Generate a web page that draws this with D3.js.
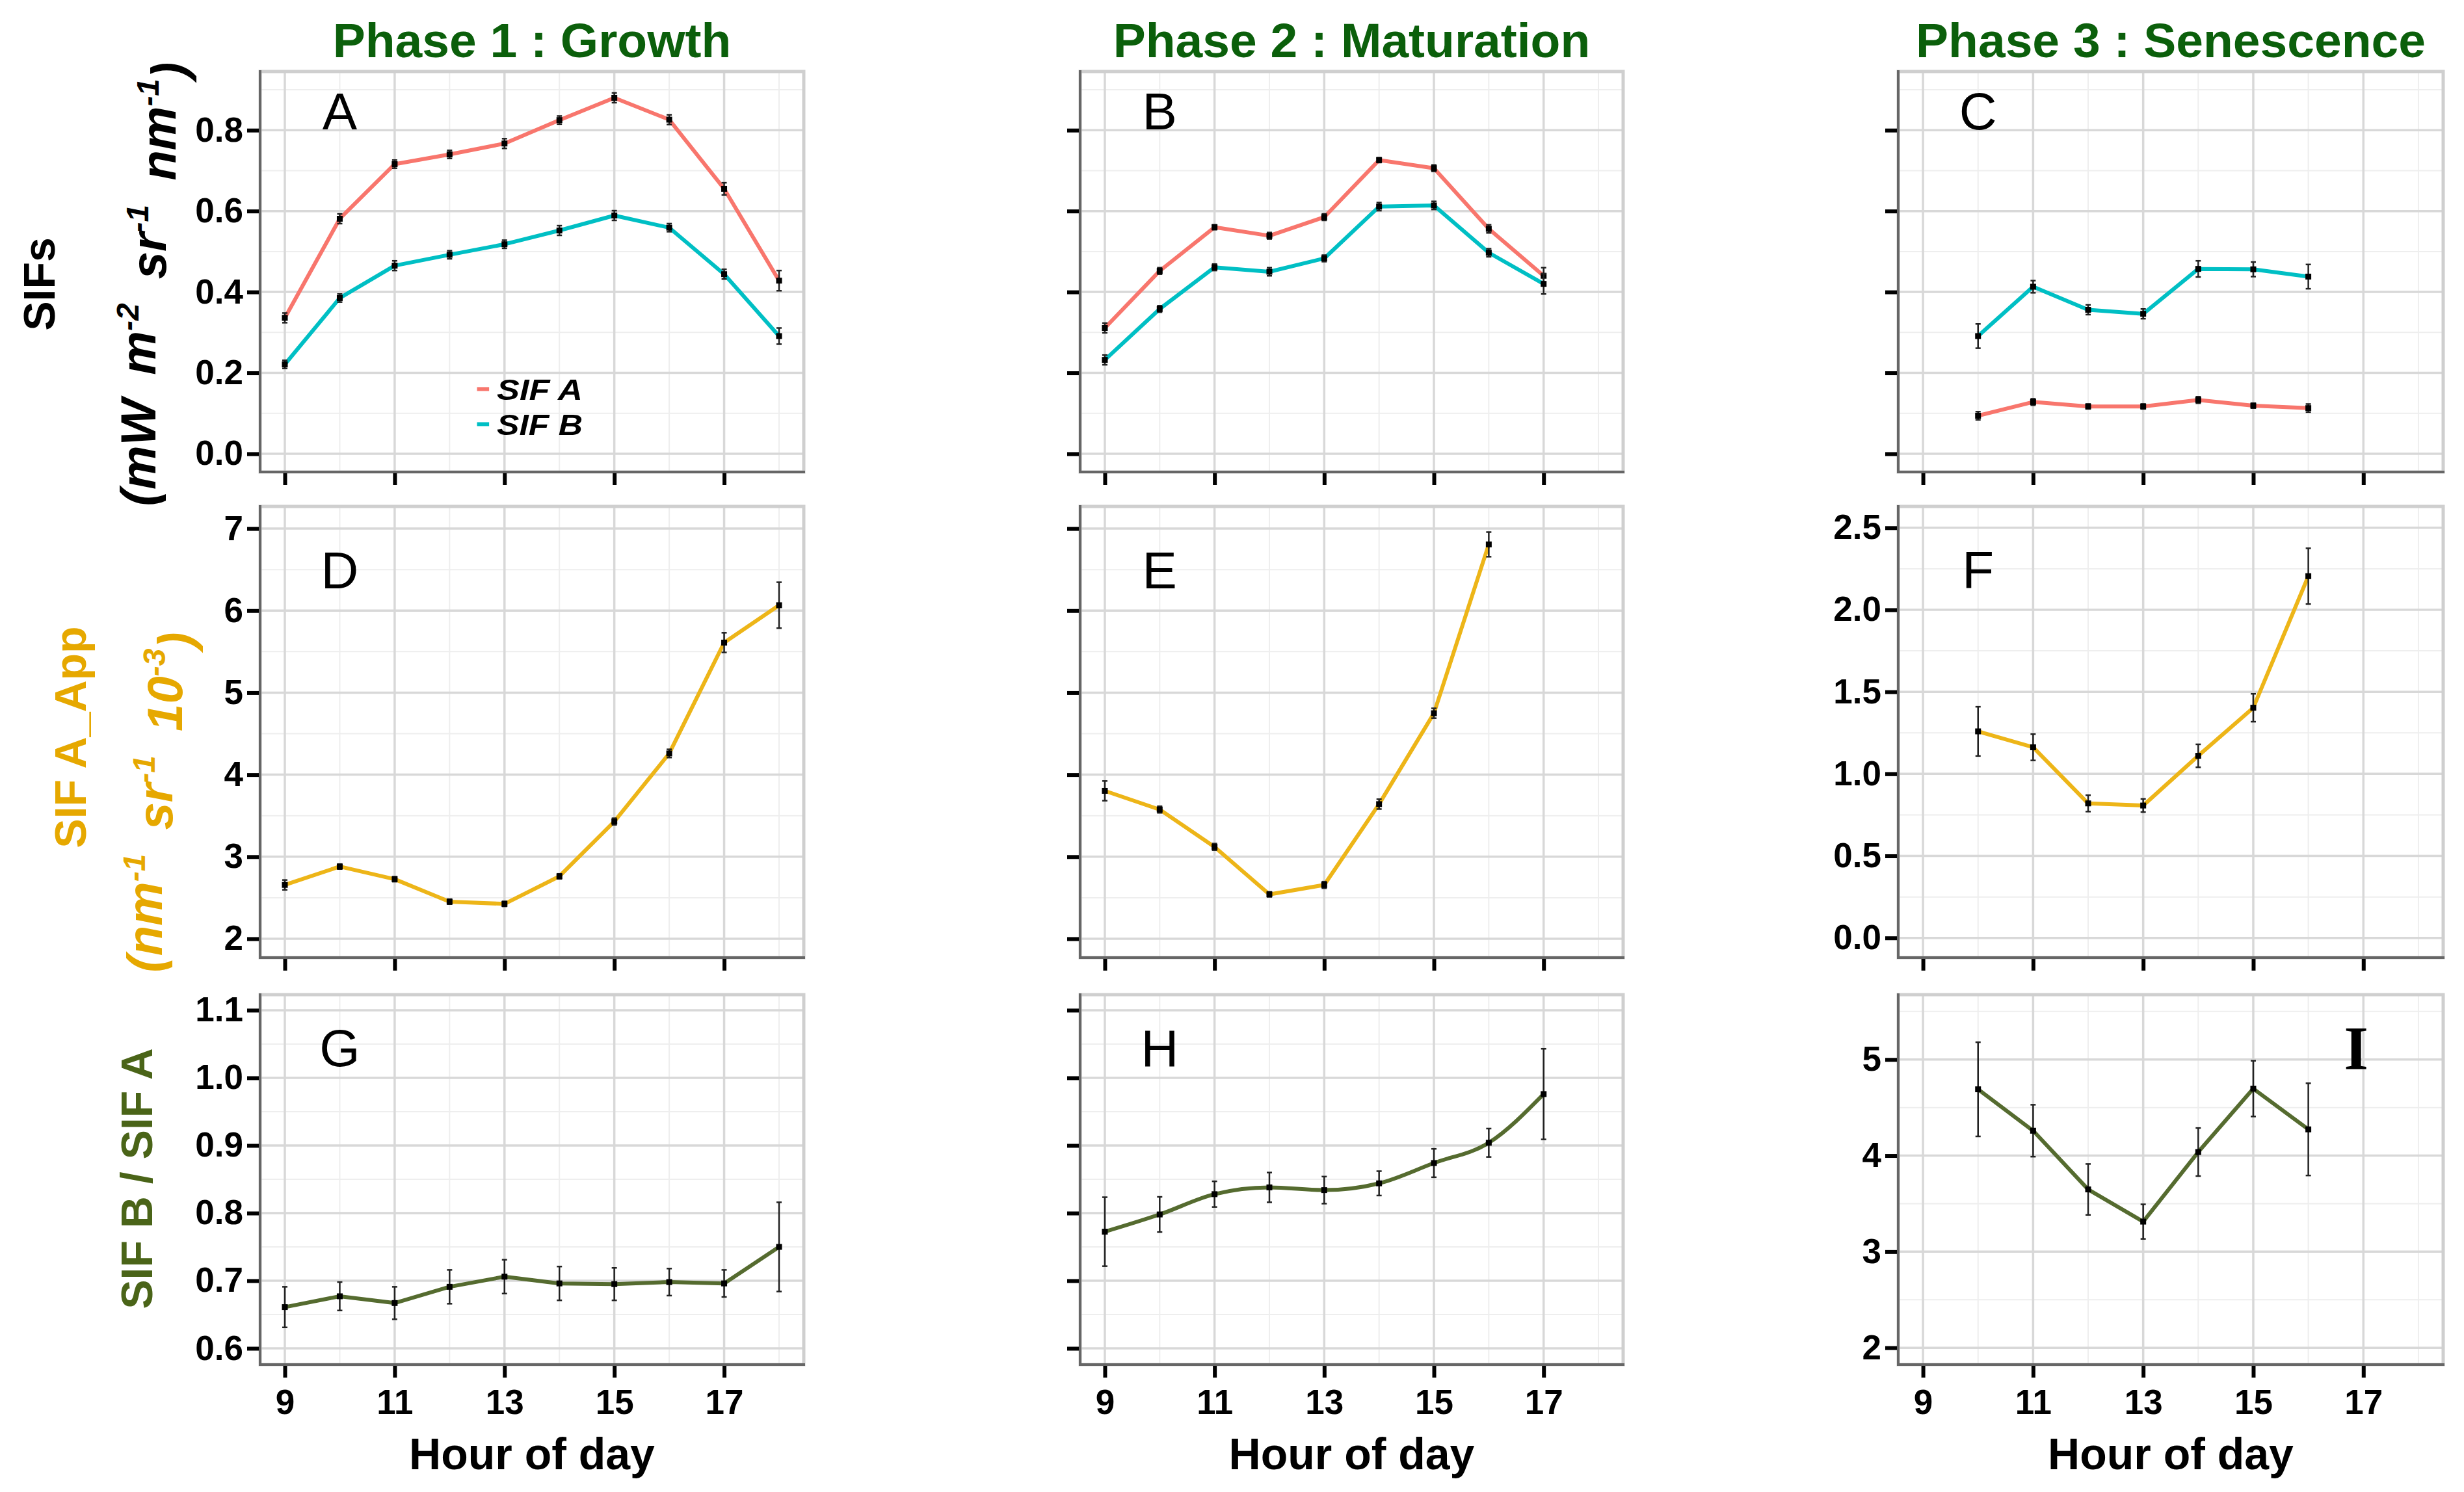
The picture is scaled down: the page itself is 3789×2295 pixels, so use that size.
<!DOCTYPE html>
<html>
<head>
<meta charset="utf-8">
<script src="https://cdn.jsdelivr.net/npm/d3@7/dist/d3.min.js"></script>
<style>
  html, body { margin: 0; padding: 0; background: #ffffff; }
  svg { display: block; font-family: "Liberation Sans", Arial, sans-serif; }
</style>
</head>
<body>
<script>
// ---------------- DATA ----------------
const phaseTitles = ["Phase 1 : Growth", "Phase 2 : Maturation", "Phase 3 : Senescence"];
const panelLetters = ["A", "B", "C", "D", "E", "F", "G", "H", "I"];
const xTicks = [9, 11, 13, 15, 17];
const xMinor = [10, 12, 14, 16, 18];

const hoursP1 = [9, 10, 11, 12, 13, 14, 15, 16, 17, 18];
const hoursP2 = [9, 10, 11, 12, 13, 14, 15, 16, 17];
const hoursP2app = [9, 10, 11, 12, 13, 14, 15, 16];
const hoursP3 = [10, 11, 12, 13, 14, 15, 16];

// Row 1 : SIF A / SIF B (mW m-2 sr-1 nm-1)
const sifA_P1 = [0.336, 0.581, 0.716, 0.740, 0.767, 0.825, 0.880, 0.826, 0.655, 0.428];
const sifA_P1_se = [0.012, 0.012, 0.010, 0.010, 0.012, 0.010, 0.012, 0.012, 0.015, 0.025];
const sifB_P1 = [0.221, 0.385, 0.465, 0.492, 0.518, 0.552, 0.589, 0.559, 0.444, 0.291];
const sifB_P1_se = [0.010, 0.010, 0.012, 0.010, 0.010, 0.012, 0.012, 0.010, 0.012, 0.020];
const sifA_P2 = [0.311, 0.452, 0.560, 0.539, 0.585, 0.726, 0.706, 0.556, 0.440];
const sifA_P2_se = [0.012, 0.008, 0.006, 0.008, 0.008, 0.006, 0.008, 0.010, 0.020];
const sifB_P2 = [0.232, 0.358, 0.461, 0.450, 0.483, 0.611, 0.614, 0.497, 0.420];
const sifB_P2_se = [0.012, 0.008, 0.008, 0.010, 0.008, 0.010, 0.010, 0.010, 0.025];
const sifA_P3 = [0.094, 0.128, 0.117, 0.117, 0.133, 0.119, 0.113];
const sifA_P3_se = [0.010, 0.008, 0.006, 0.006, 0.008, 0.006, 0.010];
const sifB_P3 = [0.291, 0.413, 0.356, 0.346, 0.457, 0.456, 0.438];
const sifB_P3_se = [0.030, 0.015, 0.012, 0.012, 0.020, 0.018, 0.030];

// Row 2 : SIF A_App (nm-1 sr-1 10-3)
const appA_P1 = [2.656, 2.880, 2.726, 2.452, 2.425, 2.761, 3.429, 4.259, 5.610, 6.066];
const appA_P1_se = [0.06, 0.03, 0.03, 0.03, 0.03, 0.03, 0.04, 0.05, 0.12, 0.28];
const appA_P2 = [3.803, 3.575, 3.120, 2.541, 2.656, 3.641, 4.749, 6.807];
const appA_P2_se = [0.12, 0.04, 0.04, 0.03, 0.04, 0.06, 0.06, 0.15];
const appA_P3 = [1.259, 1.162, 0.820, 0.807, 1.110, 1.403, 2.205];
const appA_P3_se = [0.15, 0.08, 0.05, 0.04, 0.07, 0.085, 0.17];

// Row 3 : SIF B / SIF A
const ratio_P1 = [0.661, 0.677, 0.667, 0.691, 0.706, 0.696, 0.695, 0.698, 0.696, 0.750];
const ratio_P1_se = [0.030, 0.021, 0.024, 0.025, 0.025, 0.025, 0.024, 0.020, 0.020, 0.066];
const ratio_P2 = [0.7725, 0.798, 0.828, 0.838, 0.834, 0.844, 0.874, 0.904, 0.976];
const ratio_P2_se = [0.051, 0.026, 0.019, 0.022, 0.020, 0.018, 0.021, 0.021, 0.067];
const ratio_P3 = [4.690, 4.259, 3.648, 3.313, 4.037, 4.697, 4.273];
const ratio_P3_se = [0.49, 0.27, 0.265, 0.18, 0.25, 0.29, 0.48];

// y tick labels
const yTicksSIF = [0.0, 0.2, 0.4, 0.6, 0.8];
const yTicksApp = [2, 3, 4, 5, 6, 7];
const yTicksAppP3 = [0.0, 0.5, 1.0, 1.5, 2.0, 2.5];
const yTicksRatio = [0.6, 0.7, 0.8, 0.9, 1.0, 1.1];
const yTicksRatioP3 = [2, 3, 4, 5];

const legendLabels = ["SIF A", "SIF B"];

// ---------------- STYLE / LAYOUT ----------------
const W = 3789, H = 2295;
const colX = [[400, 1236], [1661, 2496], [2919, 3757]];
const rowY = [[110, 726], [779, 1473], [1530, 2099]];
const COL_A = "#F8766D", COL_B = "#00BFC4", COL_GOLD = "#EDB518", COL_OLIVE = "#556B2F";
const TITLE_GREEN = "#0B5F0B", GOLD_TXT = "#E6A800", OLIVE_TXT = "#4A6418";
const xDomain = [8.55, 18.45];

const svg = d3.select("body").append("svg").attr("width", W).attr("height", H);
svg.append("rect").attr("width", W).attr("height", H).attr("fill", "#fff");

function mk(h, v, se) { return h.map((x, i) => ({ x: x, y: v[i], se: se[i] })); }

const panels = [
  { r: 0, c: 0, dom: [-0.045, 0.945], ticks: yTicksSIF, minor: [0.1, 0.3, 0.5, 0.7, 0.9], fmt: d3.format(".1f"), labels: true,
    series: [{ d: mk(hoursP1, sifA_P1, sifA_P1_se), col: COL_A }, { d: mk(hoursP1, sifB_P1, sifB_P1_se), col: COL_B }], ly: 0.848 },
  { r: 0, c: 1, dom: [-0.045, 0.945], ticks: yTicksSIF, minor: [0.1, 0.3, 0.5, 0.7, 0.9], fmt: d3.format(".1f"), labels: false,
    series: [{ d: mk(hoursP2, sifA_P2, sifA_P2_se), col: COL_A }, { d: mk(hoursP2, sifB_P2, sifB_P2_se), col: COL_B }], ly: 0.848 },
  { r: 0, c: 2, dom: [-0.045, 0.945], ticks: yTicksSIF, minor: [0.1, 0.3, 0.5, 0.7, 0.9], fmt: d3.format(".1f"), labels: false,
    series: [{ d: mk(hoursP3, sifA_P3, sifA_P3_se), col: COL_A }, { d: mk(hoursP3, sifB_P3, sifB_P3_se), col: COL_B }], ly: 0.848 },
  { r: 1, c: 0, dom: [1.77, 7.27], ticks: yTicksApp, minor: [2.5, 3.5, 4.5, 5.5, 6.5], fmt: d3.format("d"), labels: true,
    series: [{ d: mk(hoursP1, appA_P1, appA_P1_se), col: COL_GOLD }], ly: 6.5 },
  { r: 1, c: 1, dom: [1.77, 7.27], ticks: yTicksApp, minor: [2.5, 3.5, 4.5, 5.5, 6.5], fmt: d3.format("d"), labels: false,
    series: [{ d: mk(hoursP2app, appA_P2, appA_P2_se), col: COL_GOLD }], ly: 6.5 },
  { r: 1, c: 2, dom: [-0.12, 2.63], ticks: yTicksAppP3, minor: [0.25, 0.75, 1.25, 1.75, 2.25], fmt: d3.format(".1f"), labels: true,
    series: [{ d: mk(hoursP3, appA_P3, appA_P3_se), col: COL_GOLD }], ly: 2.25 },
  { r: 2, c: 0, dom: [0.576, 1.123], ticks: yTicksRatio, minor: [0.65, 0.75, 0.85, 0.95, 1.05], fmt: d3.format(".1f"), labels: true,
    series: [{ d: mk(hoursP1, ratio_P1, ratio_P1_se), col: COL_OLIVE }], ly: 1.045 },
  { r: 2, c: 1, dom: [0.576, 1.123], ticks: yTicksRatio, minor: [0.65, 0.75, 0.85, 0.95, 1.05], fmt: d3.format(".1f"), labels: false, curve: true,
    series: [{ d: mk(hoursP2, ratio_P2, ratio_P2_se), col: COL_OLIVE }], ly: 1.045 },
  { r: 2, c: 2, dom: [1.825, 5.675], ticks: yTicksRatioP3, minor: [2.5, 3.5, 4.5, 5.5], fmt: d3.format("d"), labels: true,
    series: [{ d: mk(hoursP3, ratio_P3, ratio_P3_se), col: COL_OLIVE }], ly: 5.13, lx: 16.87, serif: true }
];

panels.forEach((p, i) => {
  const [x0, x1] = colX[p.c], [y0, y1] = rowY[p.r];
  const x = d3.scaleLinear().domain(xDomain).range([x0, x1]);
  const y = d3.scaleLinear().domain(p.dom).range([y1, y0]);
  const g = svg.append("g");

  // minor grid
  g.selectAll(".hmin").data(p.minor.filter(v => v > p.dom[0] && v < p.dom[1])).join("line")
    .attr("x1", x0).attr("x2", x1).attr("y1", d => y(d)).attr("y2", d => y(d))
    .attr("stroke", "#eeeeee").attr("stroke-width", 2);
  g.selectAll(".vmin").data(xMinor).join("line")
    .attr("x1", d => x(d)).attr("x2", d => x(d)).attr("y1", y0).attr("y2", y1)
    .attr("stroke", "#eeeeee").attr("stroke-width", 2);
  // major grid
  g.selectAll(".hmaj").data(p.ticks).join("line")
    .attr("x1", x0).attr("x2", x1).attr("y1", d => y(d)).attr("y2", d => y(d))
    .attr("stroke", "#d8d8d8").attr("stroke-width", 3.5);
  g.selectAll(".vmaj").data(xTicks).join("line")
    .attr("x1", d => x(d)).attr("x2", d => x(d)).attr("y1", y0).attr("y2", y1)
    .attr("stroke", "#d8d8d8").attr("stroke-width", 3.5);

  // panel border (light) + axis lines (dark)
  g.append("rect").attr("x", x0).attr("y", y0).attr("width", x1 - x0).attr("height", y1 - y0)
    .attr("fill", "none").attr("stroke", "#cfcfcf").attr("stroke-width", 5);
  g.append("line").attr("x1", x0).attr("x2", x0).attr("y1", y0 - 2).attr("y2", y1 + 2)
    .attr("stroke", "#666").attr("stroke-width", 4);
  g.append("line").attr("x1", x0 - 2).attr("x2", x1 + 2).attr("y1", y1).attr("y2", y1)
    .attr("stroke", "#666").attr("stroke-width", 4);

  // axes via d3
  const yAxis = d3.axisLeft(y).tickValues(p.ticks).tickSize(18).tickPadding(6)
    .tickFormat(p.labels ? p.fmt : () => "");
  const ya = g.append("g").attr("transform", `translate(${x0 - 2},0)`).call(yAxis);
  ya.select(".domain").remove();
  ya.selectAll(".tick line").attr("stroke", "#000").attr("stroke-width", 6);
  ya.selectAll(".tick text").attr("font-size", 53).attr("font-weight", "bold").attr("fill", "#000")
    .attr("font-family", "Liberation Sans, Arial, sans-serif");

  const xAxis = d3.axisBottom(x).tickValues(xTicks).tickSize(18).tickPadding(18)
    .tickFormat(p.r === 2 ? d3.format("d") : () => "");
  const xa = g.append("g").attr("transform", `translate(0,${y1 + 2})`).call(xAxis);
  xa.select(".domain").remove();
  xa.selectAll(".tick line").attr("stroke", "#000").attr("stroke-width", 6);
  xa.selectAll(".tick text").attr("font-size", 53).attr("font-weight", "bold").attr("fill", "#000")
    .attr("font-family", "Liberation Sans, Arial, sans-serif");

  // series
  const lineGen = d3.line().x(d => x(d.x)).y(d => y(d.y));
  if (p.curve) lineGen.curve(d3.curveMonotoneX);
  p.series.forEach(s => {
    g.append("path").datum(s.d).attr("d", lineGen).attr("fill", "none")
      .attr("stroke", s.col).attr("stroke-width", 6).attr("stroke-linejoin", "round");
  });
  p.series.forEach(s => {
    const eb = g.append("g");
    eb.selectAll("line.v").data(s.d).join("line")
      .attr("x1", d => x(d.x)).attr("x2", d => x(d.x))
      .attr("y1", d => y(d.y - d.se)).attr("y2", d => y(d.y + d.se))
      .attr("stroke", "#222").attr("stroke-width", 2.5);
    eb.selectAll("line.t").data(s.d).join("line")
      .attr("x1", d => x(d.x) - 4).attr("x2", d => x(d.x) + 4)
      .attr("y1", d => y(d.y + d.se)).attr("y2", d => y(d.y + d.se))
      .attr("stroke", "#222").attr("stroke-width", 2.5);
    eb.selectAll("line.b").data(s.d).join("line")
      .attr("x1", d => x(d.x) - 4).attr("x2", d => x(d.x) + 4)
      .attr("y1", d => y(d.y - d.se)).attr("y2", d => y(d.y - d.se))
      .attr("stroke", "#222").attr("stroke-width", 2.5);
    eb.selectAll("rect").data(s.d).join("rect")
      .attr("x", d => x(d.x) - 4.5).attr("y", d => y(d.y) - 4.5).attr("width", 9).attr("height", 9).attr("fill", "#000");
  });

  // panel letter
  const lt = g.append("text").attr("x", x(p.lx || 10)).attr("y", y(p.ly))
    .attr("dy", "0.36em").attr("text-anchor", "middle").attr("fill", "#000").text(panelLetters[i]);
  if (p.serif) lt.attr("font-family", "Liberation Serif, Times New Roman, serif").attr("font-weight", "bold").attr("font-size", 96);
  else lt.attr("font-family", "Liberation Sans, Arial, sans-serif").attr("font-size", 80);

  // legend (panel A)
  if (i === 0) {
    const lg = g.append("g");
    [COL_A, COL_B].forEach((col, k) => {
      const ly = y(0.16) + k * 54;
      lg.append("line").attr("x1", x(12.5)).attr("x2", x(12.72)).attr("y1", ly).attr("y2", ly)
        .attr("stroke", col).attr("stroke-width", 6);
      lg.append("text").attr("x", x(12.86)).attr("y", ly).attr("dy", "0.36em")
        .attr("font-size", 45).attr("font-weight", "bold").attr("font-style", "italic")
        .attr("textLength", 132).attr("lengthAdjust", "spacingAndGlyphs")
        .attr("fill", "#000").text(legendLabels[k]);
    });
  }

  // phase titles
  if (p.r === 0) {
    svg.append("text").attr("x", (x0 + x1) / 2).attr("y", 88).attr("text-anchor", "middle")
      .attr("font-size", 75).attr("font-weight", "bold").attr("fill", TITLE_GREEN).text(phaseTitles[p.c]);
  }
  if (p.r === 2) {
    svg.append("text").attr("x", (x0 + x1) / 2).attr("y", 2260).attr("text-anchor", "middle")
      .attr("font-size", 68).attr("font-weight", "bold").attr("fill", "#000").text("Hour of day");
  }
});

// y-axis titles
function vtext(cx, cy, color, italic, size) {
  const t = svg.append("text").attr("transform", `translate(${cx},${cy}) rotate(-90)`)
    .attr("text-anchor", "middle").attr("dy", "0.36em")
    .attr("font-size", size).attr("font-weight", "bold").attr("fill", color);
  if (italic) t.attr("font-style", "italic").attr("word-spacing", 16);
  return t;
}
vtext(60, 437, "#000", false, 68).text("SIFs");
{
  const t = vtext(212, 437, "#000", true, 76);
  t.append("tspan").text("(mW m");
  t.append("tspan").attr("dy", "-0.55em").attr("font-size", 48).text("-2");
  t.append("tspan").attr("dy", "0.55em").text(" sr");
  t.append("tspan").attr("dy", "-0.55em").attr("font-size", 48).text("-1");
  t.append("tspan").attr("dy", "0.55em").text(" nm");
  t.append("tspan").attr("dy", "-0.55em").attr("font-size", 48).text("-1");
  t.append("tspan").attr("dy", "0.55em").text(")");
}
vtext(108, 1134, GOLD_TXT, false, 68).text("SIF A_App");
{
  const t = vtext(222, 1234, GOLD_TXT, true, 76);
  t.append("tspan").text("(nm");
  t.append("tspan").attr("dy", "-0.55em").attr("font-size", 48).text("-1");
  t.append("tspan").attr("dy", "0.55em").text(" sr");
  t.append("tspan").attr("dy", "-0.55em").attr("font-size", 48).text("-1");
  t.append("tspan").attr("dy", "0.55em").text(" 10");
  t.append("tspan").attr("dy", "-0.55em").attr("font-size", 48).text("-3");
  t.append("tspan").attr("dy", "0.55em").text(")");
}
vtext(210, 1813, OLIVE_TXT, false, 68).text("SIF B / SIF A");
</script>
</body>
</html>
